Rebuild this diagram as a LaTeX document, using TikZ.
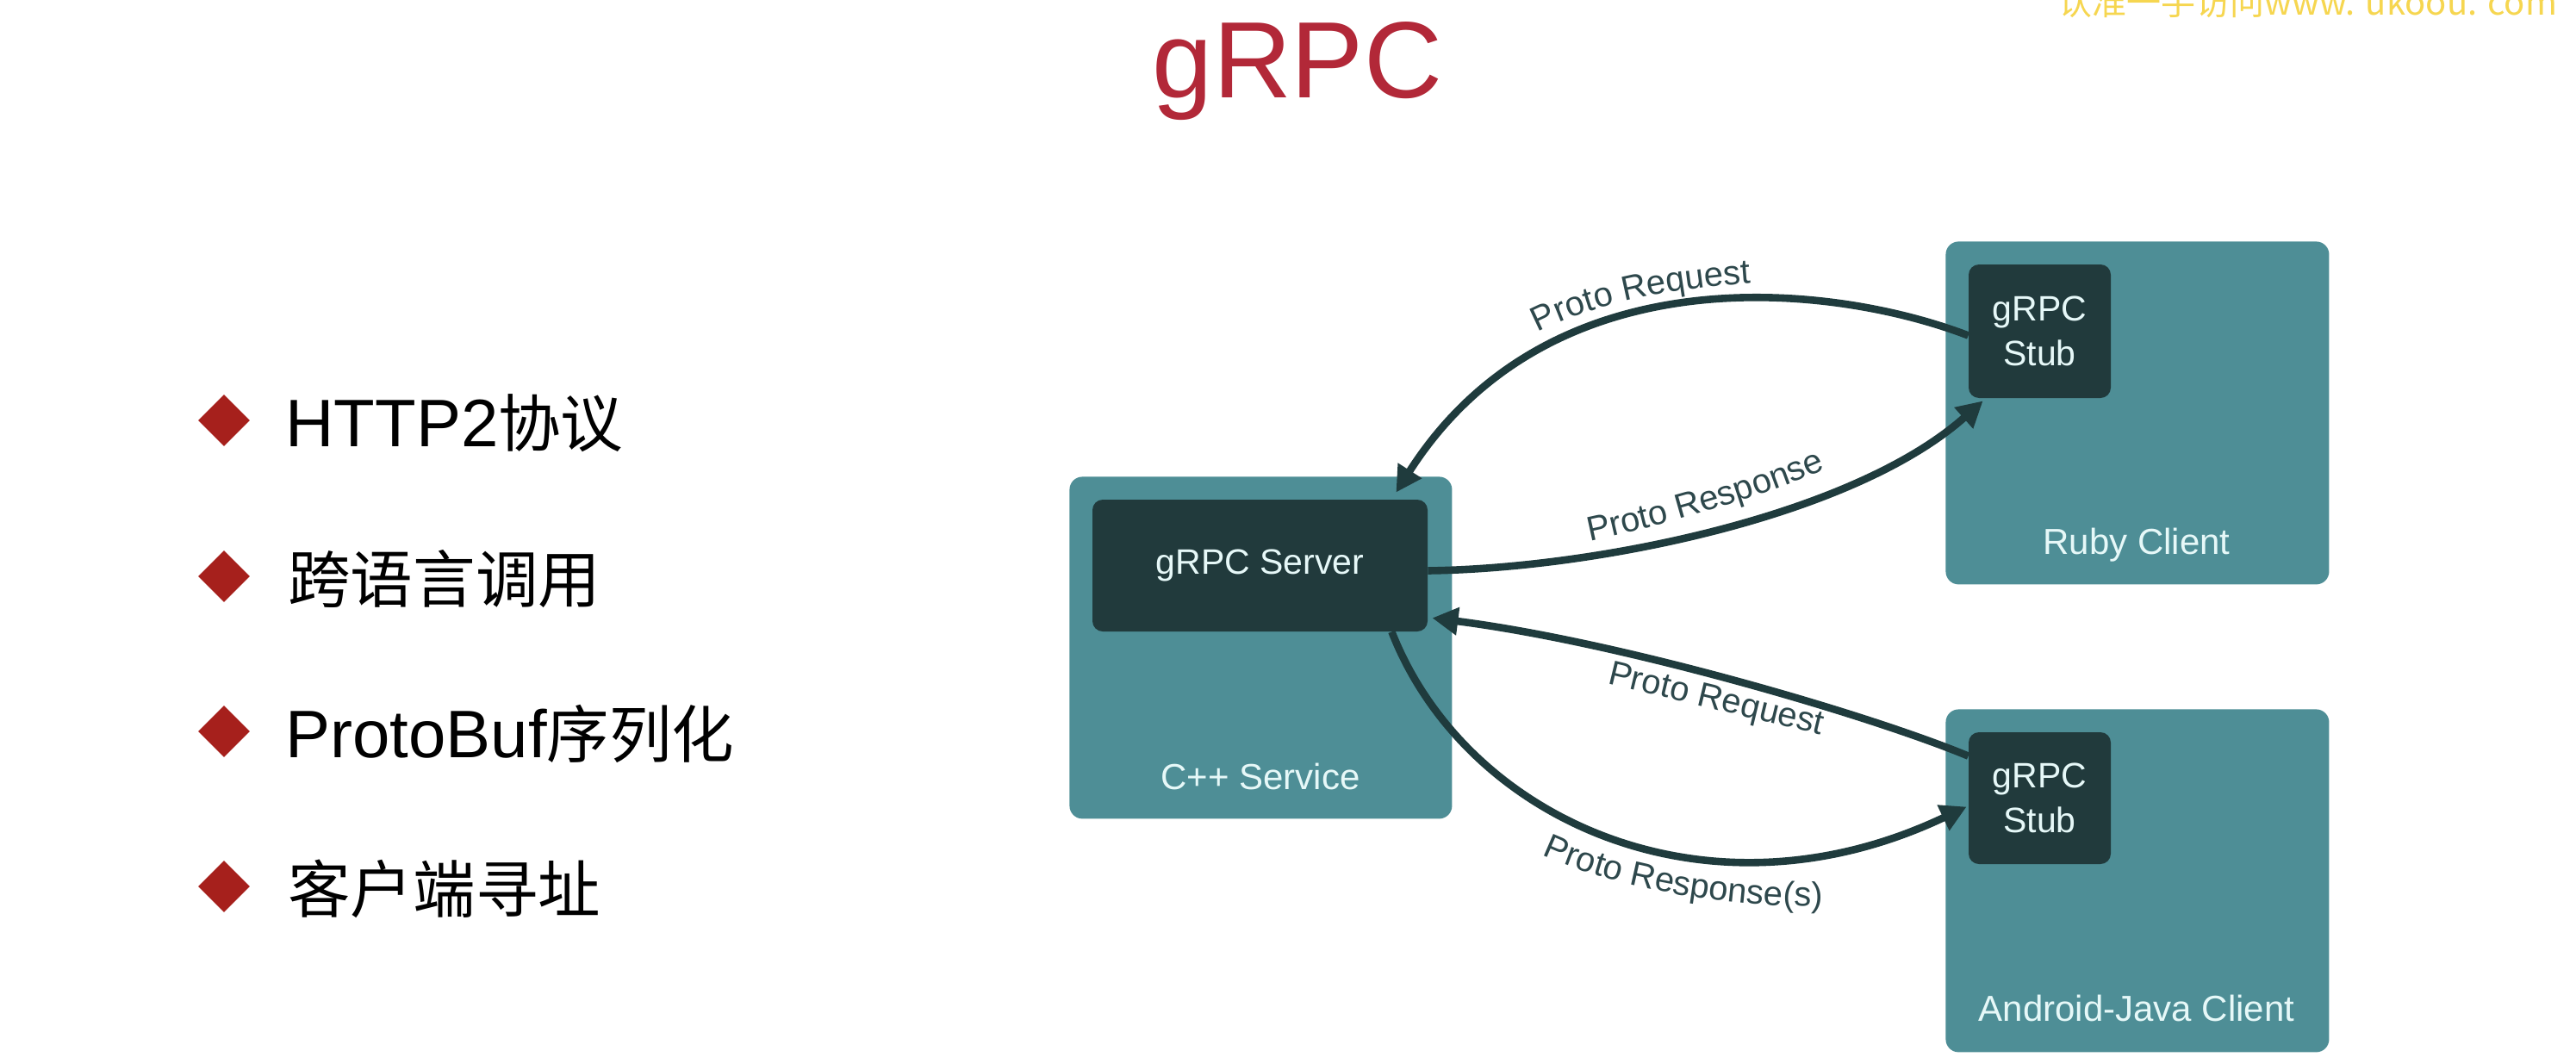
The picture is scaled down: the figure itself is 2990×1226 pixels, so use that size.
\documentclass[tikz,border=0pt]{standalone}
\usepackage{fontspec}
\setmainfont{Liberation Sans}
\newfontfamily\cjk[Scale=0.93]{Noto Sans CJK SC}
\newfontfamily\markfont{Noto Sans CJK SC}
\usetikzlibrary{arrows.meta,calc,shapes.geometric,decorations.text}

\definecolor{titlered}{RGB}{178,40,56}
\definecolor{bulletred}{RGB}{166,32,28}
\definecolor{boxteal}{RGB}{78,142,150}
\definecolor{boxdark}{RGB}{33,58,60}
\definecolor{wire}{RGB}{31,59,61}
\definecolor{lbl}{RGB}{46,72,76}
\definecolor{boxtext}{RGB}{230,248,248}
\definecolor{marktext}{RGB}{246,214,80}

\newcommand\flowfont{\fontsize{20}{24}\selectfont}

\tikzset{
  container/.style={fill=boxteal, rounded corners=7.5pt, inner sep=0pt, anchor=north west},
  darkbox/.style={fill=boxdark, rounded corners=6pt, inner sep=0pt, text=boxtext,
    align=center, font=\fontsize{20.5}{26}\selectfont},
  boxlabel/.style={text=boxtext, anchor=base, inner sep=0pt, font=\fontsize{21}{24}\selectfont},
  flow/.style={draw=wire, line width=4.3pt, -{Triangle[length=15pt,width=15.5pt]}},
  flowtext/.style={decorate, decoration={text along path, text color=lbl, text={|\flowfont|#1}}},
  bulletmark/.style={diamond, fill=bulletred, minimum width=30pt, minimum height=30pt, inner sep=0pt},
  bullettext/.style={anchor=base west, inner sep=0pt, font=\fontsize{39}{42}\selectfont},
}

\begin{document}
\begin{tikzpicture}[x=0.5pt,y=-0.5pt]
  % canvas
  \fill[white] (0,0) rectangle (2990,1226);
  \useasboundingbox (0,0) rectangle (2990,1226);
  \clip (0,0) rectangle (2990,1226);

  % site mark, cut by the top edge
  \node[anchor=base west, inner sep=0pt, text=marktext, font=\markfont\fontsize{20}{22}\selectfont]
    (site) at (2388,18) {认准一手访问www. ukoou. com};

  % title
  \node[anchor=base, inner sep=0pt, text=titlered, font=\fontsize{63}{66}\selectfont]
    (title) at (1506,113) {gRPC};

  % feature list
  \node[bulletmark] (m1) at (260,488) {};
  \node[bulletmark] (m2) at (260,669) {};
  \node[bulletmark] (m3) at (260,849) {};
  \node[bulletmark] (m4) at (260,1029) {};
  \node[bullettext] (t1) at (331,518) {HTTP2{\cjk 协议}};
  \node[bullettext] (t2) at (334,699) {{\cjk 跨语言调用}};
  \node[bullettext] (t3) at (331,879) {ProtoBuf{\cjk 序列化}};
  \node[bullettext] (t4) at (334,1059) {{\cjk 客户端寻址}};

  % service and clients
  \node[container, minimum width=222pt, minimum height=198.5pt] (cpp) at (1241,553) {};
  \node[container, minimum width=222.5pt, minimum height=199pt] (ruby) at (2258,280) {};
  \node[container, minimum width=222.5pt, minimum height=199pt] (android) at (2258,823) {};

  \node[darkbox, minimum width=194.5pt, minimum height=76.5pt] (server) at (1462.5,656.5) {gRPC Server};
  \node[darkbox, minimum width=82.5pt, minimum height=77.5pt] (stubA) at (2367.5,384.5) {gRPC\\Stub};
  \node[darkbox, minimum width=82.5pt, minimum height=76.5pt] (stubB) at (2367.5,926.5) {gRPC\\Stub};

  \node[boxlabel] (cppname) at (1463,916) {C++ Service};
  \node[boxlabel] (rubyname) at (2480,643) {Ruby Client};
  \node[boxlabel] (androidname) at (2480,1185) {Android-Java Client};

  % calls between stubs and server
  \draw[flow] ($(stubA.west)+(0,5)$) .. controls (2130,330) and (1800,290) .. ($(server.north east)+(-37,-8)$);
  \draw[flow] ($(server.east)+(0,6)$) .. controls (1850,660) and (2150,600) .. ($(stubA.south west)+(17,3)$);
  \draw[flow] ($(stubB.north west)+(0,28)$) .. controls (2170,830) and (1880,745) .. ($(server.south east)+(5,-16)$);
  \draw[flow] ($(server.south east)+(-42,0)$) .. controls (1700,950) and (1980,1080) .. ($(stubB.west)+(-2,10)$);

  % message names, set along the curves
  \path[flowtext={Proto Request}] (1785,386) .. controls (1845,355) and (1935,332) .. (2075,326);
  \path[flowtext={Proto Response}] (1845,628) .. controls (1930,610) and (2060,575) .. (2150,530);
  \path[flowtext={Proto Request}] (1865,793) .. controls (1960,816) and (2055,839) .. (2150,862);
  \path[flowtext={Proto Response(s)}] (1790,992) .. controls (1860,1025) and (1990,1058) .. (2170,1052);
\end{tikzpicture}
\end{document}
